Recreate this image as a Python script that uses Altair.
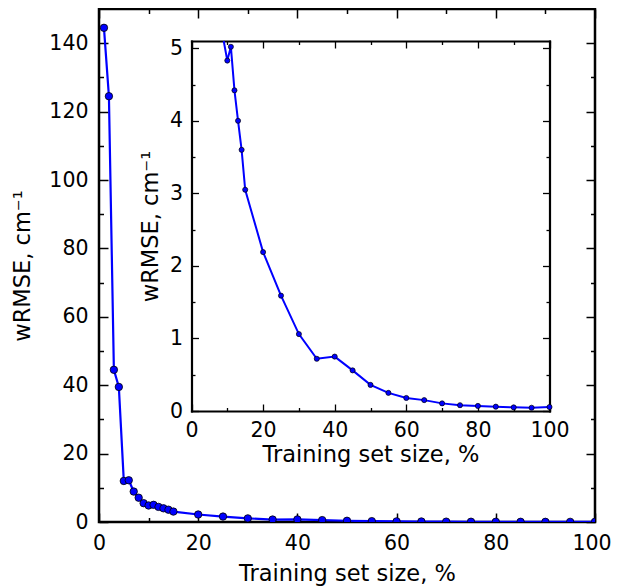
import altair as alt
import pandas as pd

# ---- data ----
train_size = [1, 2, 3, 4, 5, 6, 7, 8, 9, 10, 11, 12, 13, 14, 15,
              20, 25, 30, 35, 40, 45, 50, 55, 60, 65, 70, 75, 80, 85, 90, 95, 100]
wrmse = [144.5, 124.5, 44.5, 39.5, 12.0, 12.2, 8.9, 7.1, 5.5, 4.83, 5.02, 4.42, 4.0, 3.6, 3.05,
         2.19, 1.59, 1.06, 0.72, 0.75, 0.56, 0.36, 0.25, 0.18, 0.15, 0.105, 0.08, 0.07, 0.06,
         0.05, 0.045, 0.055]

main_x_major = [0, 20, 40, 60, 80, 100]
main_x_labels_a = [0, 20, 40, 60, 80]
main_x_labels_b = [100]
main_x_minor = [10, 30, 50, 70, 90]
main_y_major = [0, 20, 40, 60, 80, 100, 120, 140]
main_y_minor = [10, 30, 50, 70, 90, 110, 130]
inset_x_major = [0, 20, 40, 60, 80, 100]
inset_x_minor = [10, 30, 50, 70, 90]
inset_y_major = [0, 1, 2, 3, 4, 5]
inset_y_minor = [0.5, 1.5, 2.5, 3.5, 4.5]

x_title = "Training set size, %"
y_title = "wRMSE, cm\u207b\u00b9"

df = pd.DataFrame({"size": train_size, "wrmse": wrmse})

# ---- layout ----
W, H = 496, 513
IN_L, IN_R, IN_T, IN_B = 92.5, 450.5, 32, 402
FONT = "DejaVu Sans"
BLUE = "#0000ff"
FRAME_W = 2.5
INSET_FRAME_W = 2.2

main_xs = dict(domain=[0, 100], nice=False, zero=False)
main_ys = dict(domain=[0, 150], nice=False, zero=False)
inset_xs = dict(domain=[0, 100], range=[IN_L, IN_R], nice=False, zero=False)
inset_ys = dict(domain=[0, 5.1], range=[IN_B, IN_T], nice=False, zero=False, clamp=True)

base = alt.Chart(df)


def enc_x(scale, axis=None):
    return alt.X("size:Q", scale=alt.Scale(**scale), axis=axis)


def enc_y(scale, axis=None):
    return alt.Y("wrmse:Q", scale=alt.Scale(**scale), axis=axis)


def axis_layer(channel, scale, axis):
    if channel == "x":
        return base.mark_point(opacity=0).encode(x=enc_x(scale, axis))
    return base.mark_point(opacity=0).encode(y=enc_y(scale, axis))


def tick_layer(channel, scale, orient, values, size, width, edge_offset):
    ax = alt.Axis(orient=orient, values=values, ticks=True, tickSize=size,
                  tickWidth=width, tickColor="black", domain=False, labels=False,
                  grid=False, title=None, offset=edge_offset - size)
    return axis_layer(channel, scale, ax)


layers = []

# main data
layers.append(base.mark_line(color=BLUE, strokeWidth=2.2, clip=True).encode(
    x=enc_x(main_xs), y=enc_y(main_ys)))
layers.append(base.mark_circle(color=BLUE, stroke="black", strokeWidth=0.8, size=55,
                               opacity=1, clip=True).encode(
    x=enc_x(main_xs), y=enc_y(main_ys)))

# main labelled axes
layers.append(axis_layer("x", main_xs, alt.Axis(
    orient="bottom", values=main_x_labels_a, ticks=False, tickSize=0, domain=False,
    grid=False, labelPadding=11, title=x_title, titleY=58,
    titleBaseline="alphabetic")))
layers.append(axis_layer("x", main_xs, alt.Axis(
    orient="bottom", values=main_x_labels_b, ticks=False, tickSize=0, domain=False,
    grid=False, labelPadding=11, labelOffset=-3.5, title=None)))
layers.append(axis_layer("y", main_ys, alt.Axis(
    orient="left", values=main_y_major, ticks=False, tickSize=0, domain=False,
    grid=False, labelPadding=11, title=y_title, titleX=-69.5,
    titleBaseline="alphabetic")))

# main inward ticks on all sides
for orient in ["bottom", "top"]:
    layers.append(tick_layer("x", main_xs, orient, main_x_major, 9, 1.5, 0))
    layers.append(tick_layer("x", main_xs, orient, main_x_minor, 4.5, 1.5, 0))
for orient in ["left", "right"]:
    layers.append(tick_layer("y", main_ys, orient, main_y_major, 9, 1.5, 0))
    layers.append(tick_layer("y", main_ys, orient, main_y_minor, 4.5, 1.5, 0))

# inset frame + labelled axes
off_b = -(H - IN_B)
off_t = -IN_T
off_l = -IN_L
off_r = -(W - IN_R)

layers.append(axis_layer("x", inset_xs, alt.Axis(
    orient="bottom", offset=off_b, values=inset_x_major, ticks=False, tickSize=0,
    domain=True, domainWidth=INSET_FRAME_W, domainColor="black", domainCap="square",
    grid=False, labelPadding=9, title=x_title, titleY=50,
    titleBaseline="alphabetic")))
layers.append(axis_layer("y", inset_ys, alt.Axis(
    orient="left", offset=off_l, values=inset_y_major, ticks=False, tickSize=0,
    domain=True, domainWidth=INSET_FRAME_W, domainColor="black", domainCap="square",
    grid=False, labelPadding=9, title=y_title, titleX=-34.5,
    titleBaseline="alphabetic")))
layers.append(axis_layer("x", inset_xs, alt.Axis(
    orient="top", offset=off_t, ticks=False, tickSize=0, labels=False,
    domain=True, domainWidth=INSET_FRAME_W, domainColor="black", domainCap="square",
    grid=False, title=None)))
layers.append(axis_layer("y", inset_ys, alt.Axis(
    orient="right", offset=off_r, ticks=False, tickSize=0, labels=False,
    domain=True, domainWidth=INSET_FRAME_W, domainColor="black", domainCap="square",
    grid=False, title=None)))

# inset inward ticks
layers.append(tick_layer("x", inset_xs, "bottom", inset_x_major, 7, 1.3, off_b))
layers.append(tick_layer("x", inset_xs, "bottom", inset_x_minor, 3.5, 1.3, off_b))
layers.append(tick_layer("x", inset_xs, "top", inset_x_major, 7, 1.3, off_t))
layers.append(tick_layer("x", inset_xs, "top", inset_x_minor, 3.5, 1.3, off_t))
layers.append(tick_layer("y", inset_ys, "left", inset_y_major, 7, 1.3, off_l))
layers.append(tick_layer("y", inset_ys, "left", inset_y_minor, 3.5, 1.3, off_l))
layers.append(tick_layer("y", inset_ys, "right", inset_y_major, 7, 1.3, off_r))
layers.append(tick_layer("y", inset_ys, "right", inset_y_minor, 3.5, 1.3, off_r))

# inset data
layers.append(base.transform_filter("datum.size >= 9").mark_line(
    color=BLUE, strokeWidth=2).encode(x=enc_x(inset_xs), y=enc_y(inset_ys)))
layers.append(base.transform_filter("datum.size >= 10").mark_circle(
    color=BLUE, stroke="black", strokeWidth=0.7, size=26, opacity=1).encode(
    x=enc_x(inset_xs), y=enc_y(inset_ys)))

chart = alt.layer(*layers).resolve_scale(
    x="independent", y="independent"
).resolve_axis(
    x="independent", y="independent"
).properties(
    width=W, height=H,
    autosize=alt.AutoSizeParams(type="none"),
    padding={"left": 91, "top": 1, "right": 16, "bottom": 64},
).configure_axis(
    labelFont=FONT, titleFont=FONT, labelFontSize=20.5, titleFontSize=22.5,
    labelColor="black", titleColor="black", titleFontWeight="normal",
    labelFlush=False, labelOverlap=False,
).configure_view(
    stroke="black", strokeWidth=FRAME_W,
)

chart.save("out.html", embed_options={"renderer": "svg", "actions": False})
